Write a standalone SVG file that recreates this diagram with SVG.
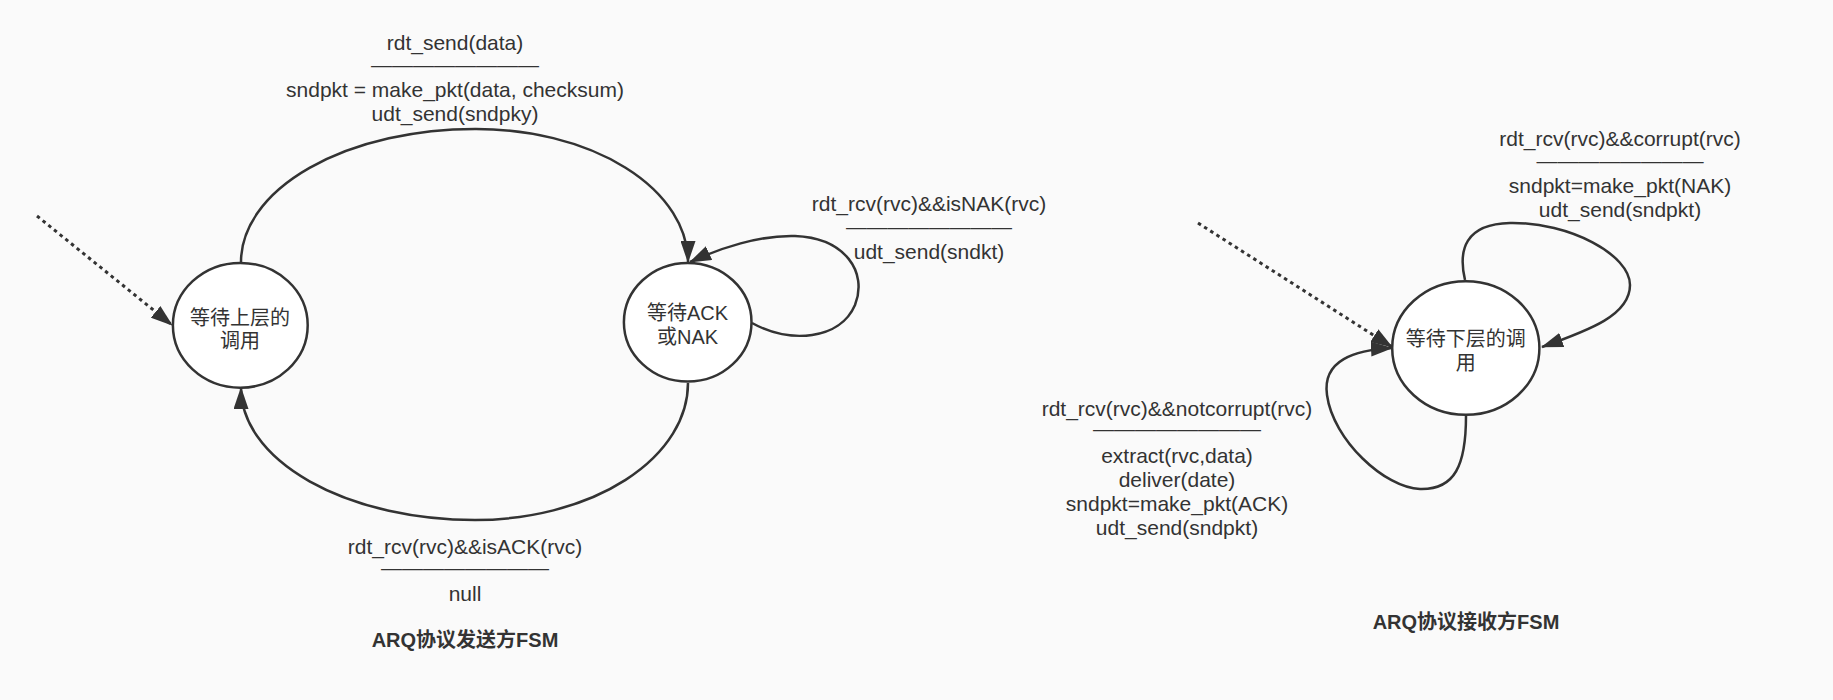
<svg xmlns="http://www.w3.org/2000/svg" width="1833" height="700" viewBox="0 0 1833 700">
<style>
.bg{fill:#fafafa}
.st{fill:#ffffff;stroke:#333333;stroke-width:2.5}
.ed{fill:none;stroke:#333333;stroke-width:2.5}
.dot{fill:none;stroke:#333333;stroke-width:3;stroke-dasharray:3.5 3.8}
.t{font-family:"Liberation Sans","Noto Sans CJK SC",sans-serif;font-size:21px;fill:#333333;text-anchor:middle}
.c{font-family:"Liberation Sans","Noto Sans CJK SC",sans-serif;font-size:20px;fill:#333333;text-anchor:middle}
.h{font-family:"Liberation Sans","Noto Sans CJK SC",sans-serif;font-size:20px;font-weight:bold;fill:#333333;text-anchor:middle}
</style>
<defs>
<marker id="arr" markerUnits="userSpaceOnUse" viewBox="0 0 22 15" refX="21" refY="7.5" markerWidth="22" markerHeight="15" orient="auto">
<path d="M0 0 L22 7.5 L0 15 Z" fill="#333333"/>
</marker>
</defs>
<rect class="bg" x="0" y="0" width="1833" height="700"/>
<g id="connectors">
<path class="dot" d="M37 216 L172 325" marker-end="url(#arr)"/>
<path class="ed" d="M241 262 A234 133 0 0 1 475 129 A212 133 0 0 1 688 262" marker-end="url(#arr)"/>
<path class="ed" d="M688 383 A213 137 0 0 1 475 520 A234 132 0 0 1 241 388" marker-end="url(#arr)"/>
<path class="ed" d="M752 323 C790 344 840 340 855 305 C868 272 845 238 795 236 C760 235 720 248 690 262" marker-end="url(#arr)"/>
<path class="dot" d="M1198 223 L1392 347" marker-end="url(#arr)"/>
<path class="ed" d="M1465 280 C1458 250 1465 224 1510 223 C1570 222 1630 255 1630 285 C1630 315 1590 330 1542 347" marker-end="url(#arr)"/>
<path class="ed" d="M1466 416 C1466 465 1455 490 1420 489 C1385 488 1333 440 1327 395 C1322 360 1355 350 1392 348" marker-end="url(#arr)"/>
</g>
<g id="state-wait-upper">
<ellipse class="st" cx="240.3" cy="325.3" rx="67.4" ry="62.4"/>
<text class="c" x="240" y="324.5">等待上层的</text>
<text class="c" x="240" y="348">调用</text>
</g>
<g id="state-wait-ack">
<ellipse class="st" cx="687.7" cy="322.2" rx="63.8" ry="59.3"/>
<text class="c" x="687.5" y="320">等待ACK</text>
<text class="c" x="687.5" y="343.5">或NAK</text>
</g>
<g id="state-wait-lower">
<ellipse class="st" cx="1465.8" cy="348" rx="73.6" ry="66.8"/>
<text class="c" x="1465.7" y="346">等待下层的调</text>
<text class="c" x="1465.7" y="370">用</text>
</g>
<g id="label-send">
<text class="t" x="455" y="50">rdt_send(data)</text>
<text class="t" x="455" y="72" textLength="168" lengthAdjust="spacingAndGlyphs">————————</text>
<text class="t" x="455" y="97">sndpkt = make_pkt(data, checksum)</text>
<text class="t" x="455" y="121">udt_send(sndpky)</text>
</g>
<g id="label-nak">
<text class="t" x="929" y="211">rdt_rcv(rvc)&amp;&amp;isNAK(rvc)</text>
<text class="t" x="929" y="234" textLength="166" lengthAdjust="spacingAndGlyphs">————————</text>
<text class="t" x="929" y="259">udt_send(sndkt)</text>
</g>
<g id="label-ack">
<text class="t" x="465" y="554">rdt_rcv(rvc)&amp;&amp;isACK(rvc)</text>
<text class="t" x="465" y="575" textLength="168" lengthAdjust="spacingAndGlyphs">————————</text>
<text class="t" x="465" y="601">null</text>
</g>
<g id="title-sender">
<text class="h" x="465" y="647">ARQ协议发送方FSM</text>
</g>
<g id="label-corrupt">
<text class="t" x="1620" y="146">rdt_rcv(rvc)&amp;&amp;corrupt(rvc)</text>
<text class="t" x="1620" y="168" textLength="167" lengthAdjust="spacingAndGlyphs">————————</text>
<text class="t" x="1620" y="193">sndpkt=make_pkt(NAK)</text>
<text class="t" x="1620" y="217">udt_send(sndpkt)</text>
</g>
<g id="label-notcorrupt">
<text class="t" x="1177" y="416">rdt_rcv(rvc)&amp;&amp;notcorrupt(rvc)</text>
<text class="t" x="1177" y="436" textLength="168" lengthAdjust="spacingAndGlyphs">————————</text>
<text class="t" x="1177" y="463">extract(rvc,data)</text>
<text class="t" x="1177" y="487">deliver(date)</text>
<text class="t" x="1177" y="511">sndpkt=make_pkt(ACK)</text>
<text class="t" x="1177" y="535">udt_send(sndpkt)</text>
</g>
<g id="title-receiver">
<text class="h" x="1466" y="629">ARQ协议接收方FSM</text>
</g>
</svg>
